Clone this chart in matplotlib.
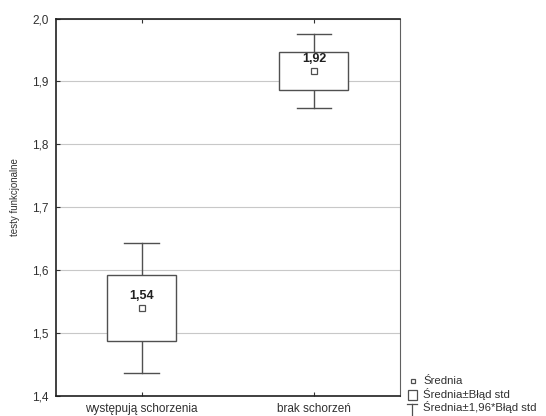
import matplotlib
matplotlib.use('Agg')
import matplotlib.pyplot as plt
from matplotlib.patches import Rectangle
from matplotlib.lines import Line2D
import numpy as np

plt.rcParams['font.family'] = ['Liberation Sans', 'DejaVu Sans']

categories = ['występują schorzenia', 'brak schorzeń']
means = [1.540, 1.917]
se = [0.053, 0.030]
mean_labels = ['1,54', '1,92']
yticks = [1.4, 1.5, 1.6, 1.7, 1.8, 1.9, 2.0]
ytick_labels = ['1,4', '1,5', '1,6', '1,7', '1,8', '1,9', '2,0']
legend_labels = ['Średnia', 'Średnia±Błąd std', 'Średnia±1,96*Błąd std']

edge = '#505050'
txt = '#303030'

fig = plt.figure(figsize=(5.46, 4.16), dpi=100)
ax = fig.add_axes([0.1017, 0.0481, 0.6309, 0.9074])

pos = np.arange(1, len(categories) + 1)
box_w = 0.4
cap_w = 0.2
for x, m, s, lab in zip(pos, means, se, mean_labels):
    lo, hi = m - 1.96 * s, m + 1.96 * s
    ax.plot([x, x], [lo, m - s], color=edge, lw=1, zorder=3)
    ax.plot([x, x], [m + s, hi], color=edge, lw=1, zorder=3)
    ax.plot([x - cap_w / 2, x + cap_w / 2], [lo, lo], color=edge, lw=1, zorder=3)
    ax.plot([x - cap_w / 2, x + cap_w / 2], [hi, hi], color=edge, lw=1, zorder=3)
    ax.add_patch(Rectangle((x - box_w / 2, m - s), box_w, 2 * s,
                           facecolor='white', edgecolor=edge, lw=1, zorder=3))
    ax.plot([x], [m], marker='s', ms=4, mfc='white', mec=edge, mew=0.9, zorder=4)
    ax.text(x, m + 0.019, lab, ha='center', va='center', fontsize=9,
            fontweight='bold', color='#202020', zorder=5)

ax.set_xlim(0.5, 2.5)
ax.set_ylim(1.4, 2.0)
ax.set_yticks(yticks)
ax.set_yticklabels(ytick_labels, fontsize=8.5, color=txt)
ax.set_xticks(pos)
ax.set_xticklabels(categories, fontsize=8.5, color=txt)
ax.tick_params(axis='y', direction='in', length=3, pad=5, color='#303030')
ax.tick_params(axis='x', direction='in', length=3, top=True, pad=5, color='#303030')
ax.yaxis.grid(True, color='#c8c8c8', lw=0.8)
ax.set_axisbelow(True)
ax.set_ylabel('testy funkcjonalne', fontsize=7, color=txt)
ax.yaxis.set_label_coords(-0.103, 0.527)

for sp in ['left', 'bottom', 'top']:
    ax.spines[sp].set_color('#202020')
    ax.spines[sp].set_linewidth(1.2)
ax.spines['right'].set_color('#606060')
ax.spines['right'].set_linewidth(0.8)

# legend outside the axes
W, H = 546, 416
def fx(px):
    return px / W
def fy(py):
    return 1 - py / H

tx = fx(423)
fsz = 8.2
fig.add_artist(Line2D([fx(412.5)], [fy(381)], marker='s', ms=3.5, mfc='white',
                      mec=edge, mew=0.9, transform=fig.transFigure, ls='none'))
fig.text(tx, fy(381.5), legend_labels[0], fontsize=fsz, va='center', color=txt)

fig.add_artist(Rectangle((fx(407.5), fy(400)), fx(9.5), 10 / H, facecolor='white',
                         edgecolor=edge, lw=0.9, transform=fig.transFigure))
fig.text(tx, fy(394), legend_labels[1], fontsize=fsz, va='center', color=txt)

fig.add_artist(Line2D([fx(407), fx(417)], [fy(403.5), fy(403.5)], color=edge, lw=0.9,
                      transform=fig.transFigure))
fig.add_artist(Line2D([fx(412), fx(412)], [fy(403.5), fy(416)], color=edge, lw=0.9,
                      transform=fig.transFigure))
fig.text(tx, fy(407), legend_labels[2], fontsize=fsz, va='center', color=txt)

fig.savefig('out.png', dpi=100)
